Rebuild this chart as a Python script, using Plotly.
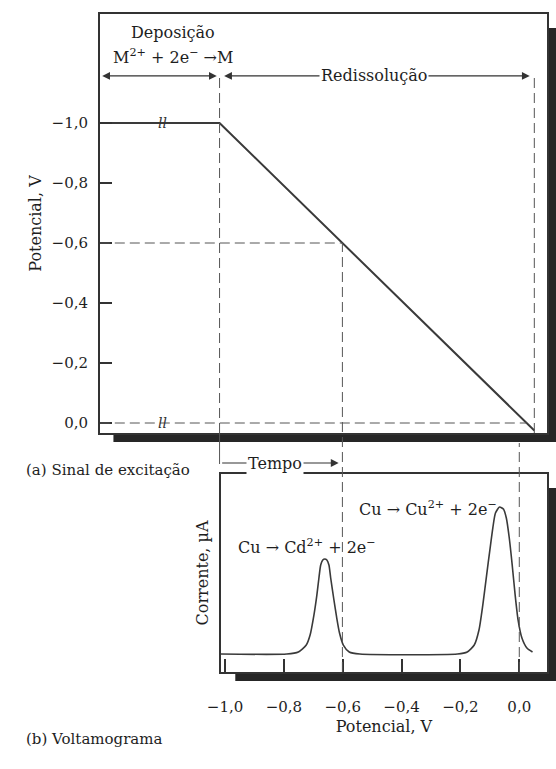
import plotly.graph_objects as go

W, H = 556, 769

# ---------------- data ----------------
# (a) excitation signal: time (arbitrary units) vs potential (V)
time_pts = [0.0, 3.9, 14.15]
potential_pts = [-1.0, -1.0, 0.025]
t_dep_end = 3.9        # end of deposition
t_at_m06 = 7.9         # time at which ramp reaches -0.6 V
t_at_zero = 13.9       # time at which ramp reaches 0.0 V
t_ramp_end = 14.15

top_ytick_vals = [-1.0, -0.8, -0.6, -0.4, -0.2, 0.0]
top_ytick_text = ["−1,0", "−0,8", "−0,6", "−0,4", "−0,2", "0,0"]

# (b) voltammogram: potential (V) vs current (arb. µA)
volt_E = [-1.015, -0.790, -0.751, -0.724, -0.711, -0.698, -0.688, -0.681, -0.675,
          -0.668, -0.661, -0.654, -0.647, -0.641, -0.631, -0.621, -0.611, -0.598,
          -0.578, -0.542, -0.210, -0.177, -0.153, -0.137, -0.124, -0.111, -0.100,
          -0.090, -0.081, -0.067, -0.054, -0.044, -0.034, -0.024, -0.014, -0.004,
          0.009, 0.026, 0.045]
volt_I = [0.0, 0.0, 0.014, 0.061, 0.129, 0.265, 0.401, 0.517, 0.605,
          0.639, 0.646, 0.639, 0.605, 0.517, 0.381, 0.252, 0.143, 0.061,
          0.014, 0.0, 0.0, 0.014, 0.061, 0.163, 0.333, 0.537, 0.707,
          0.857, 0.959, 1.0, 0.986, 0.925, 0.789, 0.605, 0.401, 0.231,
          0.109, 0.041, 0.014]

bot_xtick_vals = [-1.0, -0.8, -0.6, -0.4, -0.2, 0.0]
bot_xtick_text = ["−1,0", "−0,8", "−0,6", "−0,4", "−0,2", "0,0"]

# ---------------- layout geometry ----------------
top_xdom = [88 / W, 547 / W]
top_ydom = [1 - 433 / H, 1 - 14 / H]
bot_xdom = [212 / W, 547 / W]
bot_ydom = [1 - 672 / H, 1 - 474 / H]

top_xrange = [0.0, 14.57]
top_yrange = [0.0333, -1.3633]
bot_xrange = [-1.015, 0.095]
bot_yrange = [-0.1224, 1.2245]

FONT = "DejaVu Serif"
TXT = "#1e1e1e"
LINE = "#333333"
DASH = "10px,5px"


def px(x):
    return x / W


def py(y):
    return 1 - y / H


def top_y_paper(v):
    r0, r1 = top_yrange
    return top_ydom[0] + (v - r0) / (r1 - r0) * (top_ydom[1] - top_ydom[0])


fig = go.Figure()

fig.add_trace(go.Scatter(x=time_pts, y=potential_pts, mode="lines",
                         line=dict(color="#3a3a3a", width=2),
                         xaxis="x", yaxis="y", showlegend=False, hoverinfo="skip"))
fig.add_trace(go.Scatter(x=volt_E, y=volt_I, mode="lines",
                         line=dict(color="#3a3a3a", width=1.6, shape="spline", smoothing=0.6),
                         xaxis="x2", yaxis="y2", showlegend=False, hoverinfo="skip"))

shapes = [
    # drop shadows + white panels
    dict(type="rect", xref="paper", yref="paper", x0=px(102), x1=px(562), y0=py(442), y1=py(28),
         fillcolor="#262626", line=dict(width=0), layer="below"),
    dict(type="rect", xref="paper", yref="paper", x0=top_xdom[0], x1=top_xdom[1], y0=top_ydom[0], y1=top_ydom[1],
         fillcolor="white", line=dict(width=0), layer="below"),
    dict(type="rect", xref="paper", yref="paper", x0=px(227), x1=px(562), y0=py(681), y1=py(488),
         fillcolor="#262626", line=dict(width=0), layer="below"),
    dict(type="rect", xref="paper", yref="paper", x0=bot_xdom[0], x1=bot_xdom[1], y0=bot_ydom[0], y1=bot_ydom[1],
         fillcolor="white", line=dict(width=0), layer="below"),
    # horizontal guides
    dict(type="line", xref="x", yref="y", x0=0, x1=t_at_m06, y0=-0.6, y1=-0.6,
         line=dict(color="#555", width=1, dash=DASH)),
    dict(type="line", xref="x", yref="y", x0=0, x1=t_at_zero, y0=0.0, y1=0.0,
         line=dict(color="#555", width=1, dash=DASH)),
    # vertical guides
    dict(type="line", xref="x", yref="paper", x0=t_dep_end, x1=t_dep_end,
         y0=top_ydom[0], y1=top_y_paper(-1.157), line=dict(color="#555", width=1, dash=DASH)),
    dict(type="line", xref="x", yref="paper", x0=t_dep_end, x1=t_dep_end,
         y0=py(464), y1=top_ydom[0], line=dict(color="#555", width=1)),
    dict(type="line", xref="x", yref="paper", x0=t_at_m06, x1=t_at_m06,
         y0=bot_ydom[0], y1=top_y_paper(-0.6), line=dict(color="#555", width=1, dash=DASH)),
    dict(type="line", xref="x", yref="paper", x0=t_ramp_end, x1=t_ramp_end,
         y0=top_ydom[0], y1=top_y_paper(-1.157), line=dict(color="#555", width=1, dash=DASH)),
    dict(type="line", xref="x2", yref="paper", x0=0.0, x1=0.0,
         y0=bot_ydom[0], y1=py(443), line=dict(color="#555", width=1, dash=DASH)),
]

ann = []
# top panel labels
ann.append(dict(x=2.38, y=-1.303, xref="x", yref="y", text="Deposição", showarrow=False,
                font=dict(family=FONT, size=16, color=TXT)))
ann.append(dict(x=2.38, y=-1.22, xref="x", yref="y",
                text="M<sup>2+</sup> + 2e<sup>−</sup> →M", showarrow=False,
                font=dict(family=FONT, size=16, color=TXT)))
# double arrows
for a, b in [(0.03, 3.81), (4.0, 14.0)]:
    ann.append(dict(x=b, y=-1.157, ax=a, ay=-1.157, xref="x", yref="y", axref="x", ayref="y",
                    text="", showarrow=True, arrowhead=2, arrowside="end+start",
                    arrowsize=1.3, arrowwidth=1.2, arrowcolor=LINE, standoff=0, startstandoff=0))
ann.append(dict(x=8.92, y=-1.157, xref="x", yref="y", text="Redissolução", showarrow=False,
                bgcolor="white", borderpad=1, font=dict(family=FONT, size=16, color=TXT)))
# break marks
for v in [-1.0, 0.0]:
    ann.append(dict(x=2.03, y=v, xref="x", yref="y", text="<i>ll</i>", showarrow=False,
                    font=dict(family=FONT, size=14, color="#333")))
# Tempo arrow
ann.append(dict(x=-0.614, y=py(463), xref="x2", yref="paper", ax=-118, ay=0,
                text="", showarrow=True, arrowhead=2, arrowsize=1.3, arrowwidth=1.2,
                arrowcolor=LINE, standoff=0))
ann.append(dict(x=px(268), y=py(463), xref="paper", yref="paper", text="Tempo", showarrow=False,
                bgcolor="white", borderpad=1, font=dict(family=FONT, size=16, color=TXT)))
# bottom panel reaction labels
ann.append(dict(x=-0.309, y=0.993, xref="x2", yref="y2",
                text="Cu → Cu<sup>2+</sup> + 2e<sup>−</sup>", showarrow=False,
                font=dict(family=FONT, size=16, color=TXT)))
ann.append(dict(x=-0.721, y=0.728, xref="x2", yref="y2",
                text="Cu → Cd<sup>2+</sup> + 2e<sup>−</sup>", showarrow=False,
                font=dict(family=FONT, size=16, color=TXT)))
# panel captions
ann.append(dict(x=px(10), y=py(470), xref="paper", yref="paper", xanchor="left",
                text="(a) Sinal de excitação", showarrow=False,
                font=dict(family=FONT, size=15, color=TXT)))
ann.append(dict(x=px(10), y=py(750), xref="paper", yref="paper", xanchor="left",
                text="(b) Voltamograma", showarrow=False,
                font=dict(family=FONT, size=15, color=TXT)))

axis_common = dict(showline=True, linecolor=LINE, linewidth=1.5, mirror=True,
                   showgrid=False, zeroline=False)

fig.update_layout(
    width=W, height=H,
    margin=dict(l=0, r=0, t=0, b=0),
    paper_bgcolor="white", plot_bgcolor="white",
    showlegend=False,
    font=dict(family=FONT, color=TXT),
    shapes=shapes,
    annotations=ann,
    xaxis=dict(domain=top_xdom, range=top_xrange, anchor="y", showticklabels=False,
               ticks="", **axis_common),
    yaxis=dict(domain=top_ydom, range=top_yrange, anchor="x",
               tickmode="array", tickvals=top_ytick_vals, ticktext=top_ytick_text,
               ticks="inside", ticklen=12, tickwidth=2, tickcolor=LINE,
               tickfont=dict(family=FONT, size=15, color=TXT), ticklabelstandoff=7,
               title=dict(text="Potencial, V", font=dict(family=FONT, size=16, color=TXT), standoff=6),
               **axis_common),
    xaxis2=dict(domain=bot_xdom, range=bot_xrange, anchor="y2",
                tickmode="array", tickvals=bot_xtick_vals, ticktext=bot_xtick_text,
                ticks="inside", ticklen=13, tickwidth=1.5, tickcolor=LINE,
                tickfont=dict(family=FONT, size=15, color=TXT), ticklabelstandoff=20,
                title=dict(text="Potencial, V", font=dict(family=FONT, size=16, color=TXT), standoff=6),
                **axis_common),
    yaxis2=dict(domain=bot_ydom, range=bot_yrange, anchor="x2",
                showticklabels=False, ticks="",
                title=dict(text="Corrente, µA", font=dict(family=FONT, size=16, color=TXT), standoff=6),
                **axis_common),
)

fig.write_html("out.html")
